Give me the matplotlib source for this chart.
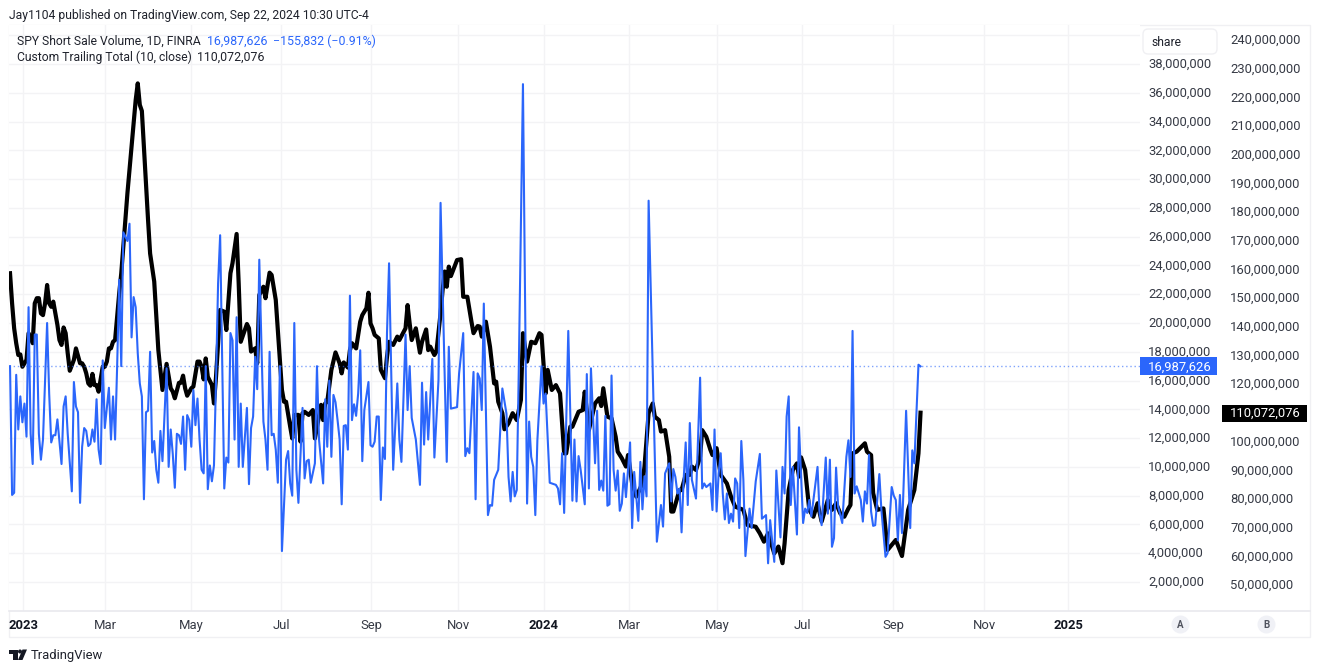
import matplotlib
matplotlib.use("Agg")
import matplotlib.pyplot as plt
from matplotlib.lines import Line2D
from matplotlib.patches import Rectangle, FancyBboxPatch, Polygon, Ellipse
from matplotlib.transforms import ScaledTranslation

# ---------- data (millions of shares; x = trading-bar number) ----------
blue_bars = [
0,1,2,3,4,5,6,7,8,9,10,11,12,13,14,15,16,18,19,20,21,22,23,25,26,27,28,30,31,32,33,34,35,36,37,38,39,40,41,42,43,44,45,46,48,49,50,51,52,53,54,55,57,58,59,60,61,62,63,64,65,66,67,68,69,70,71,72,73,74,75,76,77,78,79,80,
81,82,83,84,85,86,87,88,89,90,91,92,93,94,95,96,97,98,99,100,101,102,104,105,106,107,108,109,110,111,112,113,115,116,117,118,119,120,121,123,124,125,126,127,128,129,130,131,132,134,135,136,137,138,139,140,
142,143,144,145,146,148,149,150,152,153,154,155,156,157,158,159,160,161,162,163,164,165,166,167,168,169,170,171,172,174,175,176,177,178,179,180,181,182,183,184,186,188,189,190,192,193,194,195,197,199,200,201,202,203,205,206,208,209,212,213,214,217,218,220,221,222,223,225,226,227,228,229,230,232,233,234,235,237,239,241,242,243,244,245,246,247,249,251,252,253,254,255,256,258,259,260,262,263,265,266,267,268,269,271,273,274,275,276,277,279,280,281,
282,284,285,286,287,288,289,290,291,292,293,294,295,296,297,298,299,301,302,303,305,306,307,308,309,310,314,316,317,318,320,321,322,323,324,325,326,327,328,329,330,331,333,335,336,337,338,340,341,342,343,344,345,346,347,348,349,350,351,352,353,354,355,356,357,359,360,362,364,365,367,368,369,371,372,374,375,376,377,378,379,380,382,383,385,386,387,388,389,392,393,394,396,397,398,399,400,401,402,404,406,407,408,409,410,411,413,414,415,416,417,418,419,420,422,423,425,426,428,429,430,431,432,433,435,437,438,439,441,442]
blue_values = [
17.0,8.05,8.2,16.4,12.6,14.9,13.1,14.4,12.1,21.1,12.3,10.2,19.2,19.2,12.3,10.5,11.9,20.0,15.1,11.7,12.2,12.2,13.3,10.2,14.2,14.9,12.3,8.3,15.9,14.2,13.8,7.5,11.4,12.7,12.5,11.45,11.6,12.6,11.75,14.7,11.2,10.2,17.4,12.7,15.5,11.9,14.9,11.9,17.0,23.0,17.0,26.3,25.7,26.9,19.0,21.8,21.1,17.9,15.8,14.9,7.75,13.8,13.9,18.0,11.0,11.8,9.8,8.9,12.5,10.4,13.7,16.85,10.0,12.6,10.9,8.55,
12.3,12.2,11.6,13.5,9.8,13.6,13.25,11.4,15.35,12.9,14.75,11.9,9.8,9.55,17.0,8.45,10.1,9.0,10.1,16.0,22.75,26.1,8.5,10.65,10.3,19.3,18.8,11.9,20.4,10.0,14.4,10.0,14.1,8.8,12.7,13.5,17.65,15.4,24.4,13.15,11.9,9.8,18.0,12.2,12.3,11.2,8.9,17.0,4.15,10.5,11.1,8.85,8.0,20.0,9.8,7.5,
14.1,9.2,10.4,10.5,8.9,10.25,17.0,11.9,8.85,14.7,11.4,16.0,10.7,15.0,14.5,13.25,11.9,7.4,12.85,12.9,11.2,21.9,13.25,14.35,13.55,15.1,18.1,10.4,13.95,15.9,11.5,11.4,11.75,13.5,13.5,7.7,11.35,10.55,19.3,24.15,9.8,15.8,11.9,10.35,19.2,13.95,17.0,13.4,11.9,8.75,15.85,11.55,15.2,11.9,17.5,10.65,16.05,28.35,10.35,18.35,14.05,14.15,16.5,19.3,10.75,11.3,10.95,16.6,7.75,16.5,16.15,13.95,21.35,6.65,7.35,7.3,9.1,9.8,15.45,13.7,9.3,7.6,9.65,7.95,8.4,17.0,36.6,7.45,13.15,10.7,10.0,6.65,11.85,17.0,14.4,15.1,8.9,8.85,8.75,8.5,7.4,10.95,6.8,19.45,7.65,11.9,7.6,10.75,9.8,7.4,16.45,8.5,
16.85,10.25,13.9,8.4,9.05,8.35,13.55,7.3,7.4,16.35,9.8,8.35,9.75,6.95,7.45,9.55,7.9,11.7,5.75,9.65,6.25,10.35,7.05,9.35,7.95,28.5,4.8,7.35,5.85,9.55,10.25,7.6,9.85,9.3,8.15,8.5,5.45,9.1,11.7,7.35,13.05,9.1,7.8,16.2,8.5,8.85,8.6,8.85,7.0,12.6,6.9,9.55,10.95,8.15,6.35,8.15,6.1,6.75,6.2,9.2,8.85,5.75,11.8,9.1,3.8,7.1,5.75,9.0,10.9,6.4,6.65,3.3,6.3,3.4,9.75,5.1,10.0,8.15,13.5,14.9,7.35,10.0,5.3,12.75,6.1,7.1,6.8,7.7,6.55,10.0,6.75,5.95,10.65,6.75,10.5,4.45,5.05,9.95,7.25,6.1,10.7,11.85,9.3,19.45,8.15,8.65,7.7,6.2,8.3,7.45,10.85,6.9,5.9,5.95,9.5,7.0,3.75,4.0,8.6,8.0,7.7,4.9,8.05,5.4,13.9,5.75,11.15,10.25,17.1,16.987626]

black_bars = [
0,1,2,3,4,5,6,8,9,11,12,13,14,15,16,17,18,19,20,21,23,24,25,26,27,28,29,31,32,34,35,36,37,38,39,40,41,42,43,45,46,47,48,49,50,51,52,53,54,56,57,61,62,63,64,67,68,70,72,74,76,78,79,80,82,83,84,85,86,88,89,91,92,93,94,95,96,98,99,100,102,104,105,107,108,110,111,112,115,116,117,119,120,121,123,124,126,127,129,130,132,133,134,136,137,138,140,141,
142,143,145,147,148,151,152,153,154,156,158,160,161,162,164,165,166,168,170,171,173,174,175,176,177,179,180,182,183,184,186,188,189,192,193,194,195,197,199,200,202,203,204,206,207,209,210,211,212,213,214,217,219,220,222,224,225,227,228,229,231,233,235,236,237,239,240,242,244,246,248,249,251,253,255,257,258,260,261,263,265,267,269,270,272,273,276,278,279,281,
284,286,287,288,290,292,294,295,297,299,300,302,304,307,308,310,312,313,315,316,318,320,321,322,325,326,328,330,331,333,335,336,338,340,341,343,345,348,350,352,356,358,362,364,366,368,371,373,375,376,378,380,382,383,384,386,388,390,392,394,397,399,401,403,405,407,408,409,411,415,416,418,419,421,424,426,430,433,436,439,441,442]
black_values = [
158.7,148.2,139.5,134.3,130.2,130.4,126.1,128.5,137.8,134.3,148.2,150.0,150.0,144.7,144.1,148.2,154.6,148.2,147.0,148.8,140.7,135.4,133.7,139.8,137.8,130.8,124.7,128.5,132.5,127.3,127.3,126.1,123.8,120.3,119.5,123.6,119.7,119.7,117.4,126.1,126.1,127.9,132.5,132.5,134.8,135.4,143.6,151.7,158.7,177.3,186.7,219.1,224.9,217.4,215.3,177.3,165.6,155.8,131.9,118.0,127.1,118.6,117.4,115.1,120.5,120.5,123.0,118.6,116.0,118.6,119.2,127.9,127.9,126.1,121.7,129.0,122.6,119.7,113.3,122.6,145.9,145.3,138.9,158.7,162.2,172.4,155.2,134.8,141.0,139.5,131.4,132.5,127.3,151.1,154.0,150.0,158.9,158.1,149.4,138.9,118.0,113.9,113.9,105.2,101.1,109.3,109.3,100.0,
109.9,110.4,109.3,111.0,101.1,112.8,107.5,113.3,113.9,125.0,131.1,127.3,123.8,127.6,125.8,131.9,134.3,132.5,141.8,144.1,146.5,151.9,141.2,139.5,137.2,136.0,125.0,122.1,129.6,134.8,133.7,136.6,135.4,139.5,147.6,141.2,135.4,139.5,131.0,134.8,139.1,131.9,133.1,130.2,131.4,144.7,152.9,159.3,154.0,161.0,157.7,163.3,163.6,150.5,150.5,141.8,137.8,140.3,140.1,136.6,141.8,133.1,120.3,120.9,113.9,109.9,104.3,106.4,109.9,107.5,114.5,137.8,127.9,134.8,134.3,137.8,137.2,116.8,125.0,118.0,119.7,116.8,95.9,95.9,105.2,105.2,110.4,111.0,117.4,104.0,
113.3,115.1,112.4,118.6,108.7,108.1,101.7,96.5,94.2,91.3,95.3,85.4,80.8,85.4,91.3,109.9,113.3,108.7,107.5,103.5,104.0,94.7,75.6,75.6,83.1,83.1,88.4,88.4,91.3,90.1,94.7,104.0,101.7,97.1,95.3,97.7,88.4,85.4,80.8,77.3,76.2,70.9,70.3,68.0,65.1,68.0,61.0,63.4,57.6,64.5,83.1,90.1,92.4,87.8,94.5,90.1,76.2,73.8,78.5,72.1,79.6,76.2,78.5,75.0,73.8,76.7,77.9,95.9,96.5,99.4,96.5,95.3,82.0,76.2,76.7,62.2,65.7,60.1,76.2,83.1,95.9,110.072076]

left_ticks = [2,4,6,8,10,12,14,16,18,20,22,24,26,28,30,32,34,36,38,40]
left_labels = [f"{v},000,000" for v in left_ticks[:-1]] + [""]
right_ticks = [50,60,70,80,90,100,110,120,130,140,150,160,170,180,190,200,210,220,230,240]
right_labels = [f"{v},000,000" for v in right_ticks]
time_bars = [6.3,46.1,87.9,131.6,175.2,217.5,259.2,300.5,343.2,384.5,428.6,472.8,513.6]
time_labels = ["2023","Mar","May","Jul","Sep","Nov","2024","Mar","May","Jul","Sep","Nov","2025"]
blue_last = 16987626
black_last = 110072076

# ---------- style ----------
plt.rcParams['font.family'] = ['Roboto', 'DejaVu Sans']
W, H = 1320, 671
BLUE = "#2b66fb"
TXT = "#1f222c"
TICK = "#363a45"
GRID = "#f3f3f5"
EDGE = "#e9e9ee"
FS = 9.4
FS_TEXT = 8.75

fig = plt.figure(figsize=(W/100, H/100), dpi=100, facecolor="white")
fx = lambda x: x / W
fy = lambda y: 1 - y / H

L, R, T, B = 9, 1140, 25, 611
rect = [fx(L), fy(B), fx(R - L), (B - T) / H]
gridax = fig.add_axes(rect, zorder=0)
ax2 = fig.add_axes(rect, zorder=1, sharex=gridax)
ax = fig.add_axes(rect, zorder=2, sharex=gridax)
ax.patch.set_visible(False)
ax2.patch.set_visible(False)

# scales
ax.set_xlim(-0.5, (R - 10) / 2.06)
ax.set_ylim(-0.015, 40.71)
gridax.set_ylim(-0.015, 40.71)
ax2.set_ylim(40.93, 245.26)

ax2.plot(black_bars, black_values, color="#000000", lw=3.0, solid_joinstyle="round", zorder=3)
ax.plot(blue_bars, blue_values, color=BLUE, lw=1.5, solid_joinstyle="round", zorder=3)
ax.axhline(blue_last / 1e6, color=BLUE, lw=1.0, ls=(0, (1, 2)), alpha=0.6, zorder=2)

# left-scale ticks (A)
ax.set_yticks(left_ticks, left_labels)
ax.yaxis.tick_right()
ax.tick_params(axis="y", length=0, pad=5.8, labelsize=FS, labelcolor=TICK)
# right-scale ticks (B)
ax2.set_yticks(right_ticks, right_labels)
ax2.yaxis.tick_right()
ax2.tick_params(axis="y", length=0, pad=65, labelsize=FS, labelcolor=TICK)
ax2.tick_params(axis="x", bottom=False, labelbottom=False)

up1 = ScaledTranslation(0, 1 / 100, fig.dpi_scale_trans)
for a in (ax, ax2):
    for lab in a.get_yticklabels():
        lab.set_transform(lab.get_transform() + up1)

ax.set_xticks(time_bars, time_labels)
ax.tick_params(axis="x", length=0, pad=5.6, labelsize=FS, labelcolor=TICK)
for lab in ax.get_xticklabels():
    if lab.get_text().isdigit():
        lab.set_fontweight("bold")
        lab.set_color("#131722")

# grid lives on its own axes underneath both series
gridax.set_yticks(left_ticks)
gridax.grid(True, color=GRID, lw=1.0)
gridax.tick_params(left=False, bottom=False, labelleft=False, labelbottom=False)
for a in (ax, ax2, gridax):
    for s in a.spines.values():
        s.set_visible(False)

# panel frame and axis line
fig.add_artist(Rectangle((fx(9), fy(637)), fx(1301), (637 - 25) / H, fill=False,
                         ec="#f0f0f3", lw=1.0, transform=fig.transFigure, zorder=-1))
fig.add_artist(Line2D([fx(9), fx(1310)], [fy(611), fy(611)], color=EDGE, lw=1.2,
                      transform=fig.transFigure, zorder=1))

# share box
fig.add_artist(FancyBboxPatch((fx(1143), fy(54)), fx(74), 25 / H,
                              boxstyle="round,pad=0,rounding_size=0.004",
                              mutation_aspect=W / H, fc="white", ec="#f0f0f3", lw=1.0,
                              transform=fig.transFigure, zorder=5))
fig.text(fx(1151), fy(42), "share", fontsize=FS_TEXT, color=TXT, va="center", ha="left", zorder=6)

# last value labels
fig.add_artist(Rectangle((fx(1140), fy(375)), fx(77), 18 / H, fc=BLUE, ec="none",
                         transform=fig.transFigure, zorder=5))
fig.text(fx(1180), fy(367), f"{blue_last:,}", fontsize=FS, color="white", va="center", ha="center", zorder=6)
fig.add_artist(Rectangle((fx(1222), fy(422)), fx(85), 17 / H, fc="#000000", ec="none",
                         transform=fig.transFigure, zorder=5))
fig.text(fx(1265), fy(413.5), f"{black_last:,}", fontsize=FS, color="white", va="center", ha="center", zorder=6)

# header and legend
fig.text(fx(9), fy(15), "Jay1104 published on TradingView.com, Sep 22, 2024 10:30 UTC-4",
         fontsize=FS_TEXT, color=TXT, va="center", ha="left")
fig.text(fx(17), fy(41.5), "SPY Short Sale Volume, 1D, FINRA", fontsize=FS_TEXT, color=TXT, va="center", ha="left")
fig.text(fx(207), fy(41.5), f"{blue_last:,}", fontsize=8.95, color=BLUE, va="center", ha="left")
fig.text(fx(273), fy(41.5), "\u2212155,832 (\u22120.91%)", fontsize=8.95, color=BLUE, va="center", ha="left")
fig.text(fx(17), fy(57.5), "Custom Trailing Total (10, close)", fontsize=FS_TEXT, color=TXT, va="center", ha="left")
fig.text(fx(197), fy(57.5), f"{black_last:,}", fontsize=8.95, color=TXT, va="center", ha="left")

# A / B scale buttons
for cx, letter in ((1180.5, "A"), (1266.5, "B")):
    fig.add_artist(Ellipse((fx(cx), fy(624.5)), 18 / W, 18 / H, fc="#f0f1f6", ec="none",
                           transform=fig.transFigure, zorder=5))
    fig.text(fx(cx), fy(624.5), letter, fontsize=7, color="#50535e", va="center", ha="center",
             fontweight="bold", zorder=6)

# TradingView mark
def poly(points):
    fig.add_artist(Polygon([(fx(x), fy(y)) for x, y in points], closed=True, fc="#131722", ec="none",
                           transform=fig.transFigure, zorder=5))
poly([(9, 649.5), (17.5, 649.5), (17.5, 660), (13, 660), (13, 653.5), (9, 653.5)])
poly([(22.5, 649.5), (27, 649.5), (22.5, 660), (18, 660)])
fig.add_artist(Ellipse((fx(20), fy(651.5)), 4 / W, 4 / H, fc="#131722", ec="none",
                       transform=fig.transFigure, zorder=5))
fig.text(fx(31), fy(655), "TradingView", fontsize=9.4, color="#1f222c", va="center", ha="left")

fig.savefig("out.png", dpi=100)
